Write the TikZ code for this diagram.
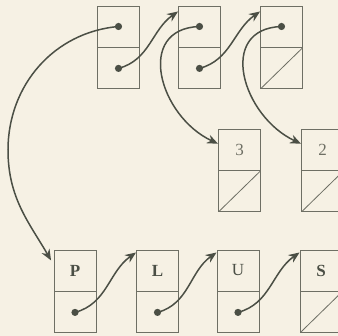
\documentclass[tikz,border=0pt]{standalone}
\usepackage{fontspec}
\setmainfont{Liberation Serif}
\usetikzlibrary{arrows.meta,positioning}
\definecolor{paper}{HTML}{F6F1E4}
\definecolor{ink}{HTML}{4B4F45}
\definecolor{rule}{HTML}{6E6F64}

\begin{document}
\begin{tikzpicture}[x=1pt,y=1pt,
  cell/.style={draw=rule, line width=0.9pt, minimum width=42pt, minimum height=41pt,
    inner sep=0pt, font=\fontsize{17}{19}\selectfont, text=ink},
  nil/.style={cell, path picture={\draw[rule,line width=0.8pt]
    (path picture bounding box.south west) -- (path picture bounding box.north east);}},
  link/.style={ink, line width=1.5pt, -{Stealth[length=11pt,width=9pt]}},
  dot/.style={ink}]

  \path[use as bounding box, fill=paper] (0,0) rectangle (338,-336);

  % top row: list of lists
  \node[cell] (t1d) at (118.5,-26.5) {};
  \node[cell, below=0pt of t1d] (t1n) {};
  \node[cell] (t2d) at (199.5,-26.5) {};
  \node[cell, below=0pt of t2d] (t2n) {};
  \node[cell] (t3d) at (281.5,-26.5) {};
  \node[nil, below=0pt of t3d] (t3n) {};

  % middle row: the numbers
  \node[cell, text=rule] (m3d) at (239.5,-149.5) {3};
  \node[nil, below=0pt of m3d] (m3n) {};
  \node[cell, text=rule] (m2d) at (322.5,-149.5) {2};
  \node[nil, below=0pt of m2d] (m2n) {};

  % bottom row: the letters
  \node[cell] (pd) at (75,-270.5) {\textbf{P}};
  \node[cell, below=0pt of pd] (pn) {};
  \node[cell] (ld) at (157.5,-270.5) {\textbf{L}};
  \node[cell, below=0pt of ld] (ln) {};
  \node[cell] (ud) at (238,-270.5) {U};
  \node[cell, below=0pt of ud] (un) {};
  \node[cell] (sd) at (321,-270.5) {\textbf{S}};
  \node[nil, below=0pt of sd] (sn) {};

  % next pointers
  \draw[link] (t1n.center) to[out=15,in=215] (t2d.145);
  \draw[link] (t2n.center) to[out=15,in=215] (t3d.145);
  \draw[link] (pn.center) to[out=15,in=215] (ld.140);
  \draw[link] (ln.center) to[out=15,in=215] (ud.140);
  \draw[link] (un.center) to[out=15,in=215] (sd.140);

  % data pointers
  \coordinate (bend) at (8,-150);
  \draw[link, shorten >=5pt] (t1d.center) to[out=185,in=90] (bend) to[out=-90,in=120] (pd.165);
  \draw[link] (t2d.center) to[out=182,in=155,looseness=1.4] (m3d.165);
  \draw[link] (t3d.center) to[out=182,in=155,looseness=1.4] (m2d.165);

  % dots
  \foreach \c in {t1d,t1n,t2d,t2n,t3d,pn,ln,un}
    \fill[dot] (\c.center) circle (3.6pt);
\end{tikzpicture}
\end{document}
